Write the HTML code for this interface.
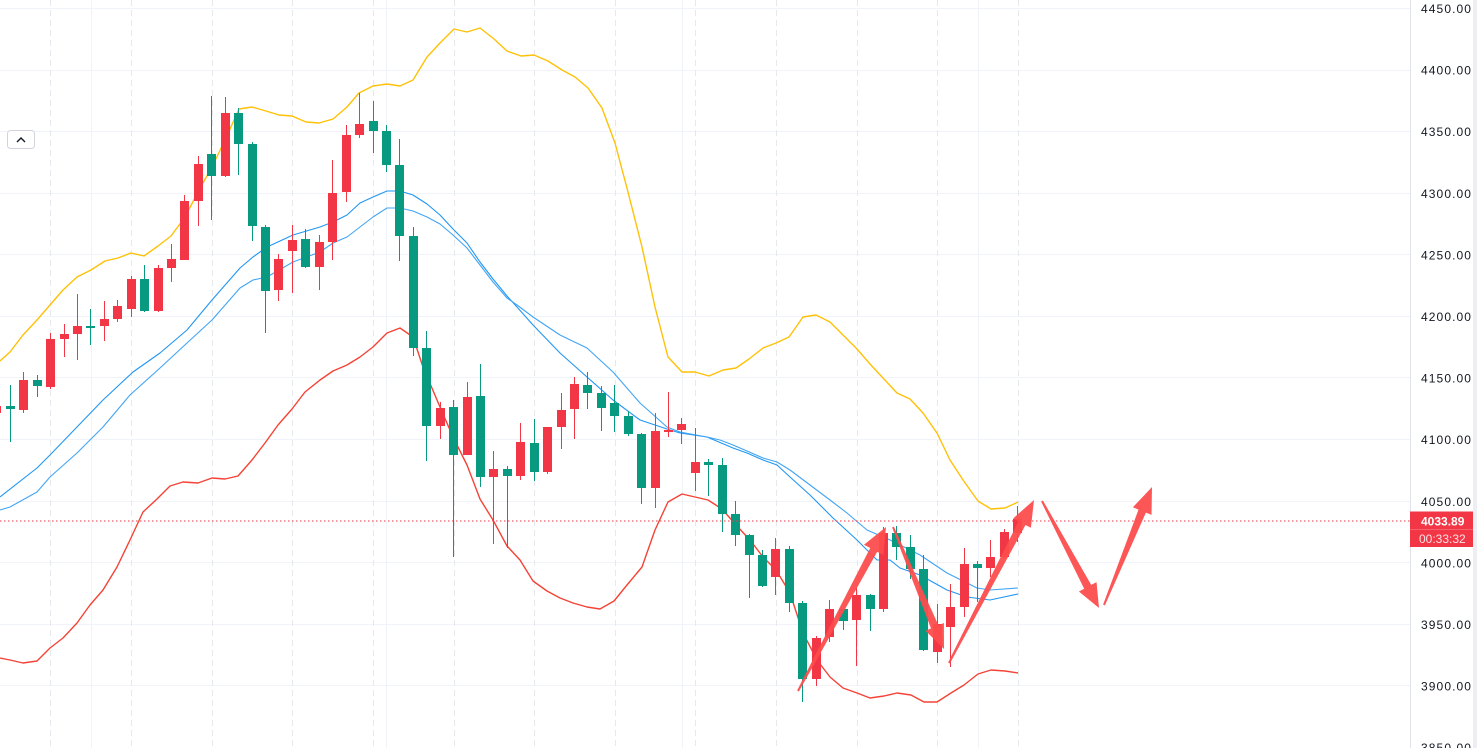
<!DOCTYPE html>
<html><head><meta charset="utf-8"><style>
html,body{margin:0;padding:0;background:#fff;}
body{width:1477px;height:748px;overflow:hidden;}
svg{display:block;}
.lbl{font-family:"Liberation Sans",Arial,sans-serif;font-size:12px;fill:#131722;letter-spacing:1.1px;}
.box{font-family:"Liberation Sans",Arial,sans-serif;font-size:12px;fill:#ffffff;}
</style></head><body>
<svg width="1477" height="748" viewBox="0 0 1477 748" xmlns="http://www.w3.org/2000/svg">
<rect x="0" y="0" width="1477" height="748" fill="#ffffff"/>
<g stroke="#f0f3fa" stroke-width="1" shape-rendering="crispEdges">
<line x1="0" y1="8.5" x2="1410" y2="8.5"/>
<line x1="0" y1="70.5" x2="1410" y2="70.5"/>
<line x1="0" y1="131.5" x2="1410" y2="131.5"/>
<line x1="0" y1="193.5" x2="1410" y2="193.5"/>
<line x1="0" y1="254.5" x2="1410" y2="254.5"/>
<line x1="0" y1="316.5" x2="1410" y2="316.5"/>
<line x1="0" y1="377.5" x2="1410" y2="377.5"/>
<line x1="0" y1="439.5" x2="1410" y2="439.5"/>
<line x1="0" y1="501.5" x2="1410" y2="501.5"/>
<line x1="0" y1="562.5" x2="1410" y2="562.5"/>
<line x1="0" y1="624.5" x2="1410" y2="624.5"/>
<line x1="0" y1="685.5" x2="1410" y2="685.5"/>
<line x1="91.5" y1="0" x2="91.5" y2="748"/>
<line x1="386.5" y1="0" x2="386.5" y2="748"/>
<line x1="682.5" y1="0" x2="682.5" y2="748"/>
<line x1="978.5" y1="0" x2="978.5" y2="748"/>
</g>
<g stroke="#e6e8ee" stroke-width="1.3" stroke-dasharray="6,4" shape-rendering="crispEdges">
<line x1="50.5" y1="0" x2="50.5" y2="748"/>
<line x1="131.5" y1="0" x2="131.5" y2="748"/>
<line x1="212.5" y1="0" x2="212.5" y2="748"/>
<line x1="292.5" y1="0" x2="292.5" y2="748"/>
<line x1="373.5" y1="0" x2="373.5" y2="748"/>
<line x1="454.5" y1="0" x2="454.5" y2="748"/>
<line x1="534.5" y1="0" x2="534.5" y2="748"/>
<line x1="615.5" y1="0" x2="615.5" y2="748"/>
<line x1="695.5" y1="0" x2="695.5" y2="748"/>
<line x1="776.5" y1="0" x2="776.5" y2="748"/>
<line x1="857.5" y1="0" x2="857.5" y2="748"/>
<line x1="937.5" y1="0" x2="937.5" y2="748"/>
<line x1="1018.5" y1="0" x2="1018.5" y2="748"/>
</g>
<polyline fill="none" stroke="#ffc107" stroke-width="1.4" stroke-linejoin="round" points="0,361 10,352 23,335 37,320 50,305 63,290 77,277 91,270 105,261 118,258 131,253 144,256 158,246 171,236 185,217 199,190 212,167 226,138 239,109 252,107 266,111 279,115 292,116 306,122 319,123 333,119 347,107 359,93 373,86 387,84 400,86 413,80 427,57 440,43 454,29 467,32 480,28 494,39 507,51 521,56 534,55 548,61 562,70 575,77 588,88 602,108 615,143 628,192 642,247 655,307 668,357 682,372 695,372 709,376 723,370 736,368 749,359 763,348 776,343 789,337 803,317 816,315 830,322 843,335 857,349 870,364 883,378 897,393 910,399 923,413 937,433 950,460 963,480 978,501 991,509 1005,508 1018,502"/>
<polyline fill="none" stroke="#f44336" stroke-width="1.4" stroke-linejoin="round" points="0,658 10,660 23,663 37,661 50,648 63,638 77,623 90,605 103,590 117,567 130,540 143,512 157,499 170,486 183,482 198,483 212,478 225,479 238,476 252,460 265,443 278,425 292,409 305,392 320,380 333,371 347,365 360,357 373,347 387,333 400,328 413,337 423,367 440,407 453,437 467,465 480,499 493,520 507,546 520,560 533,581 547,591 560,598 573,603 587,607 600,609 614,601 627,585 642,567 655,530 668,502 682,494 695,497 708,500 722,509 736,525 750,540 763,557 776,570 790,593 803,633 817,660 830,677 843,688 857,693 870,698 884,696 897,693 911,695 924,702 937,702 951,693 964,685 978,674 991,670 1005,671 1018,673"/>
<polyline fill="none" stroke="#2196f3" stroke-width="1.1" stroke-linejoin="round" points="0,497 37,468 50,455 77,427 103,400 133,372 160,353 187,330 212,300 240,268 253,257 267,247 293,235 320,227 333,222 347,215 360,203 373,197 387,191 400,191 413,195 427,204 440,215 453,229 467,243 480,262 493,279 507,296 517,307 533,325 560,353 587,377 613,400 640,420 667,429 680,433 707,437 733,448 747,453 763,460 777,465 790,477 810,495 833,518 857,540 877,560 890,560 900,568 920,575 947,590 967,597 990,600 1018,594"/>
<polyline fill="none" stroke="#42a5f5" stroke-width="1.1" stroke-linejoin="round" points="0,510 10,507 37,492 50,477 77,453 103,427 130,395 160,368 187,343 212,320 240,288 253,280 267,277 293,262 320,252 333,243 347,237 360,227 373,217 387,208 400,208 413,211 427,217 440,224 453,235 467,248 480,265 493,282 507,298 517,305 533,317 560,335 587,348 613,372 640,403 667,427 680,432 707,437 720,440 733,445 747,451 763,458 777,462 790,470 810,485 830,500 847,513 867,530 890,540 920,555 947,573 977,588 990,590 1018,588"/>
<g fill="#089981" shape-rendering="crispEdges">
<rect x="10" y="385" width="1" height="57"/><rect x="6" y="406" width="9" height="3"/>
<rect x="37" y="375" width="1" height="22"/><rect x="33" y="380" width="9" height="6"/>
<rect x="90" y="309" width="1" height="36"/><rect x="86" y="326" width="9" height="2"/>
<rect x="144" y="265" width="1" height="47"/><rect x="140" y="279" width="9" height="32"/>
<rect x="211" y="96" width="1" height="124"/><rect x="207" y="154" width="9" height="22"/>
<rect x="238" y="108" width="1" height="67"/><rect x="234" y="113" width="9" height="31"/>
<rect x="252" y="142" width="1" height="99"/><rect x="248" y="144" width="9" height="82"/>
<rect x="265" y="225" width="1" height="108"/><rect x="261" y="227" width="9" height="64"/>
<rect x="305" y="229" width="1" height="39"/><rect x="301" y="239" width="9" height="28"/>
<rect x="373" y="101" width="1" height="52"/><rect x="369" y="121" width="9" height="10"/>
<rect x="386" y="125" width="1" height="47"/><rect x="382" y="131" width="9" height="34"/>
<rect x="399" y="139" width="1" height="122"/><rect x="395" y="165" width="9" height="71"/>
<rect x="413" y="227" width="1" height="129"/><rect x="409" y="236" width="9" height="112"/>
<rect x="426" y="331" width="1" height="130"/><rect x="422" y="348" width="9" height="78"/>
<rect x="453" y="400" width="1" height="157"/><rect x="449" y="407" width="9" height="48"/>
<rect x="480" y="364" width="1" height="123"/><rect x="476" y="396" width="9" height="81"/>
<rect x="507" y="466" width="1" height="82"/><rect x="503" y="469" width="9" height="7"/>
<rect x="534" y="419" width="1" height="62"/><rect x="530" y="443" width="9" height="29"/>
<rect x="587" y="372" width="1" height="37"/><rect x="583" y="385" width="9" height="8"/>
<rect x="601" y="386" width="1" height="45"/><rect x="597" y="393" width="9" height="15"/>
<rect x="614" y="385" width="1" height="47"/><rect x="610" y="403" width="9" height="13"/>
<rect x="628" y="411" width="1" height="25"/><rect x="624" y="416" width="9" height="18"/>
<rect x="641" y="433" width="1" height="71"/><rect x="637" y="434" width="9" height="54"/>
<rect x="708" y="459" width="1" height="37"/><rect x="704" y="462" width="9" height="3"/>
<rect x="722" y="458" width="1" height="74"/><rect x="718" y="465" width="9" height="49"/>
<rect x="735" y="501" width="1" height="45"/><rect x="731" y="514" width="9" height="21"/>
<rect x="749" y="534" width="1" height="64"/><rect x="745" y="535" width="9" height="20"/>
<rect x="762" y="550" width="1" height="37"/><rect x="758" y="555" width="9" height="31"/>
<rect x="789" y="546" width="1" height="66"/><rect x="785" y="549" width="9" height="54"/>
<rect x="802" y="601" width="1" height="101"/><rect x="798" y="603" width="9" height="76"/>
<rect x="843" y="609" width="1" height="21"/><rect x="839" y="609" width="9" height="12"/>
<rect x="870" y="594" width="1" height="37"/><rect x="866" y="595" width="9" height="14"/>
<rect x="896" y="526" width="1" height="34"/><rect x="892" y="533" width="9" height="14"/>
<rect x="910" y="535" width="1" height="44"/><rect x="906" y="547" width="9" height="22"/>
<rect x="923" y="555" width="1" height="96"/><rect x="919" y="569" width="9" height="81"/>
<rect x="977" y="561" width="1" height="41"/><rect x="973" y="564" width="9" height="4"/>
</g>
<g fill="#f23645" shape-rendering="crispEdges">
<rect x="-4" y="404" width="1" height="11"/><rect x="-8" y="406" width="9" height="7"/>
<rect x="23" y="372" width="1" height="41"/><rect x="19" y="380" width="9" height="30"/>
<rect x="50" y="333" width="1" height="56"/><rect x="46" y="339" width="9" height="48"/>
<rect x="64" y="324" width="1" height="33"/><rect x="60" y="334" width="9" height="5"/>
<rect x="77" y="294" width="1" height="66"/><rect x="73" y="326" width="9" height="8"/>
<rect x="104" y="301" width="1" height="40"/><rect x="100" y="319" width="9" height="7"/>
<rect x="117" y="300" width="1" height="22"/><rect x="113" y="306" width="9" height="13"/>
<rect x="131" y="276" width="1" height="41"/><rect x="127" y="279" width="9" height="30"/>
<rect x="158" y="265" width="1" height="47"/><rect x="154" y="268" width="9" height="43"/>
<rect x="171" y="244" width="1" height="38"/><rect x="167" y="259" width="9" height="9"/>
<rect x="184" y="195" width="1" height="65"/><rect x="180" y="201" width="9" height="59"/>
<rect x="198" y="156" width="1" height="70"/><rect x="194" y="164" width="9" height="37"/>
<rect x="225" y="97" width="1" height="80"/><rect x="221" y="113" width="9" height="63"/>
<rect x="278" y="254" width="1" height="47"/><rect x="274" y="259" width="9" height="31"/>
<rect x="292" y="225" width="1" height="68"/><rect x="288" y="240" width="9" height="11"/>
<rect x="319" y="235" width="1" height="55"/><rect x="315" y="242" width="9" height="25"/>
<rect x="332" y="160" width="1" height="100"/><rect x="328" y="193" width="9" height="49"/>
<rect x="346" y="125" width="1" height="77"/><rect x="342" y="135" width="9" height="57"/>
<rect x="359" y="93" width="1" height="45"/><rect x="355" y="124" width="9" height="11"/>
<rect x="440" y="402" width="1" height="37"/><rect x="436" y="408" width="9" height="18"/>
<rect x="467" y="382" width="1" height="73"/><rect x="463" y="397" width="9" height="58"/>
<rect x="493" y="451" width="1" height="93"/><rect x="489" y="469" width="9" height="8"/>
<rect x="520" y="423" width="1" height="57"/><rect x="516" y="442" width="9" height="34"/>
<rect x="547" y="427" width="1" height="47"/><rect x="543" y="427" width="9" height="45"/>
<rect x="561" y="393" width="1" height="56"/><rect x="557" y="410" width="9" height="17"/>
<rect x="574" y="377" width="1" height="62"/><rect x="570" y="384" width="9" height="25"/>
<rect x="655" y="413" width="1" height="95"/><rect x="651" y="431" width="9" height="57"/>
<rect x="668" y="392" width="1" height="45"/><rect x="664" y="430" width="9" height="2"/>
<rect x="681" y="418" width="1" height="26"/><rect x="677" y="424" width="9" height="6"/>
<rect x="695" y="428" width="1" height="63"/><rect x="691" y="462" width="9" height="11"/>
<rect x="775" y="538" width="1" height="57"/><rect x="771" y="549" width="9" height="28"/>
<rect x="816" y="636" width="1" height="50"/><rect x="812" y="638" width="9" height="41"/>
<rect x="829" y="600" width="1" height="42"/><rect x="825" y="609" width="9" height="28"/>
<rect x="856" y="587" width="1" height="79"/><rect x="852" y="595" width="9" height="25"/>
<rect x="883" y="527" width="1" height="85"/><rect x="879" y="533" width="9" height="76"/>
<rect x="937" y="604" width="1" height="59"/><rect x="933" y="624" width="9" height="28"/>
<rect x="950" y="584" width="1" height="83"/><rect x="946" y="607" width="9" height="20"/>
<rect x="964" y="548" width="1" height="69"/><rect x="960" y="564" width="9" height="43"/>
<rect x="990" y="540" width="1" height="37"/><rect x="986" y="557" width="9" height="11"/>
<rect x="1004" y="529" width="1" height="29"/><rect x="1000" y="532" width="9" height="25"/>
<rect x="1017" y="506" width="1" height="36"/><rect x="1013" y="519" width="9" height="14"/>
</g>
<line x1="0" y1="521" x2="1410" y2="521" stroke="#f23645" stroke-width="1" stroke-dasharray="1.5,2.5"/>
<g fill="#fd4d4d" fill-opacity="0.95">
<polygon points="798.9,691.5 877.2,551.8 883.4,555.1 886,527 864.0,544.7 870.2,548.0 797.1,690.5"/>
<polygon points="892.1,527.4 931.0,628.4 925.5,630.7 944,649 943.9,623.0 938.4,625.3 893.9,526.6"/>
<polygon points="949.9,663.5 1025.5,525.0 1030.9,527.7 1034,500 1013.1,518.5 1018.5,521.3 948.1,662.5"/>
<polygon points="1041.1,501.5 1084.2,588.7 1078.9,591.5 1099,608 1096.5,582.1 1091.2,584.9 1042.9,500.5"/>
<polygon points="1104.9,605.4 1145.9,512.6 1151.5,514.9 1152,487 1132.9,507.3 1138.5,509.6 1103.1,604.6"/>
</g>
<rect x="7.5" y="130.5" width="27" height="18" rx="3" ry="3" fill="#ffffff" stroke="#d1d4dc" stroke-width="1"/>
<polyline points="17,142 21,138 25,142" fill="none" stroke="#131722" stroke-width="1.4"/>
<rect x="1410" y="0" width="67" height="748" fill="#ffffff"/>
<rect x="1473" y="0" width="4" height="748" fill="#eceef3"/>
<line x1="1410.5" y1="0" x2="1410.5" y2="748" stroke="#e0e3eb" stroke-width="1"/>
<g class="lbl">
<text x="1421" y="12.8">4450.00</text>
<text x="1421" y="74.6">4400.00</text>
<text x="1421" y="136.2">4350.00</text>
<text x="1421" y="197.8">4300.00</text>
<text x="1421" y="259.4">4250.00</text>
<text x="1421" y="321">4200.00</text>
<text x="1421" y="382.6">4150.00</text>
<text x="1421" y="444.2">4100.00</text>
<text x="1421" y="505.8">4050.00</text>
<text x="1421" y="567.4">4000.00</text>
<text x="1421" y="629">3950.00</text>
<text x="1421" y="690.6">3900.00</text>
<text x="1421" y="752.2">3850.00</text>
</g>
<rect x="1410" y="511.5" width="63" height="35.5" fill="#f23645"/>
<line x1="1410" y1="529.5" x2="1473" y2="529.5" stroke="#f5606c" stroke-width="1"/>
<text x="1421" y="525.3" class="box" font-weight="bold">4033.89</text>
<text x="1419" y="543" class="box" fill-opacity="0.85">00:33:32</text>
</svg>
</body></html>
